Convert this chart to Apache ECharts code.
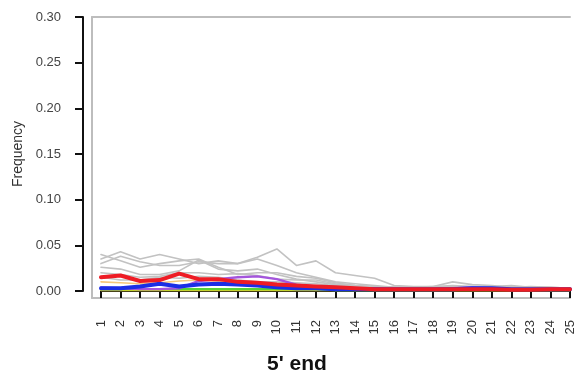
<!DOCTYPE html>
<html>
<head>
<meta charset="utf-8">
<script src="https://cdn.jsdelivr.net/npm/echarts@6/dist/echarts.min.js"></script>
<style>
  html, body { margin: 0; padding: 0; background: #fff; }
  #chart { width: 577px; height: 381px; }
</style>
</head>
<body>
<div id="chart"></div>
<script>
// Read positions along the 5' end
const positions = ['1','2','3','4','5','6','7','8','9','10','11','12','13','14','15','16','17','18','19','20','21','22','23','24','25'];
const yTicks = [0, 0.05, 0.10, 0.15, 0.20, 0.25, 0.30];

// Background samples (grey)
const grey1 = [0.035,0.043,0.035,0.040,0.035,0.030,0.033,0.030,0.037,0.046,0.028,0.033,0.020,0.017,0.014,0.006,0.005,0.005,0.010,0.007,0.006,0.004,0.005,0.004,0.003];
const grey2 = [0.040,0.033,0.026,0.030,0.033,0.035,0.026,0.018,0.020,0.020,0.016,0.014,0.009,0.006,0.005,0.004,0.004,0.004,0.005,0.005,0.004,0.004,0.004,0.004,0.003];
const grey3 = [0.030,0.038,0.032,0.028,0.028,0.032,0.030,0.030,0.035,0.028,0.020,0.015,0.010,0.008,0.006,0.004,0.004,0.005,0.006,0.005,0.005,0.006,0.004,0.003,0.003];
const grey4 = [0.026,0.024,0.018,0.018,0.022,0.034,0.024,0.022,0.024,0.018,0.013,0.010,0.007,0.005,0.004,0.004,0.004,0.004,0.004,0.004,0.004,0.004,0.004,0.003,0.003];
const grey5 = [0.020,0.018,0.015,0.016,0.020,0.020,0.018,0.019,0.017,0.013,0.012,0.012,0.008,0.006,0.005,0.004,0.003,0.004,0.004,0.004,0.003,0.003,0.003,0.003,0.003];
const grey6 = [0.015,0.012,0.012,0.015,0.014,0.016,0.015,0.012,0.010,0.010,0.009,0.008,0.006,0.004,0.003,0.003,0.003,0.003,0.003,0.003,0.003,0.003,0.003,0.003,0.002];

// Highlighted samples
const orange = [0.010,0.009,0.008,0.009,0.011,0.012,0.011,0.009,0.008,0.007,0.006,0.005,0.004,0.003,0.003,0.003,0.003,0.003,0.003,0.003,0.003,0.003,0.003,0.003,0.002];
const yellow = [0.001,0.001,0.001,0.001,0.001,0.001,0.001,0.001,0.001,0.001,0.001,0.001,0.001,0.001,0.001,0.001,0.001,0.001,0.001,0.001,0.001,0.001,0.001,0.001,0.001];
const green  = [0.002,0.002,0.002,0.002,0.002,0.002,0.002,0.002,0.002,0.002,0.002,0.002,0.001,0.001,0.001,0.001,0.001,0.001,0.001,0.001,0.001,0.001,0.001,0.001,0.001];
const purple = [0.004,0.003,0.002,0.002,0.003,0.011,0.013,0.015,0.016,0.013,0.007,0.005,0.004,0.003,0.003,0.002,0.002,0.002,0.003,0.004,0.003,0.002,0.002,0.002,0.002];
const blue   = [0.003,0.003,0.005,0.008,0.005,0.007,0.008,0.007,0.006,0.004,0.003,0.003,0.002,0.002,0.002,0.002,0.002,0.002,0.002,0.003,0.003,0.002,0.002,0.002,0.002];
const red    = [0.015,0.017,0.011,0.012,0.019,0.013,0.013,0.010,0.009,0.007,0.006,0.005,0.004,0.003,0.002,0.002,0.002,0.002,0.002,0.002,0.002,0.0015,0.0015,0.002,0.002];

const FONT = 'Liberation Sans, Arial, sans-serif';
const GREY_LINE = '#c2c2c2';
const FRAME = '#bdbdbd';

function line(data, color, width) {
  return {
    type: 'line', data: data, xAxisIndex: 0, yAxisIndex: 0,
    symbol: 'none', silent: true, animation: false,
    lineStyle: { color: color, width: width, join: 'round', cap: 'round' }
  };
}

const chart = echarts.init(document.getElementById('chart'), null, { renderer: 'canvas' });
chart.setOption({
  animation: false,
  backgroundColor: '#ffffff',
  grid: [
    { left: 101, right: 7, top: 17, bottom: 90 },   // data area
    { left: 92, right: 7, top: 17, bottom: 83 }     // grey frame
  ],
  xAxis: [
    {
      gridIndex: 0, type: 'category', data: positions, boundaryGap: false,
      offset: 18,
      axisLine: { show: true, lineStyle: { color: '#111', width: 2 } },
      axisTick: { show: true, length: 7, lineStyle: { color: '#111', width: 2 } },
      axisLabel: { rotate: 90, margin: 11, color: '#333', fontFamily: FONT, fontSize: 13, interval: 0 },
      splitLine: { show: false }
    },
    {
      gridIndex: 1, type: 'value', min: 0, max: 1, position: 'bottom',
      axisLine: { show: true, lineStyle: { color: FRAME, width: 2 } },
      axisTick: { show: false }, axisLabel: { show: false }, splitLine: { show: false }
    },
    {
      gridIndex: 1, type: 'value', min: 0, max: 1, position: 'top',
      axisLine: { show: true, lineStyle: { color: FRAME, width: 2 } },
      axisTick: { show: false }, axisLabel: { show: false }, splitLine: { show: false }
    }
  ],
  yAxis: [
    {
      gridIndex: 0, type: 'value', min: 0, max: 0.30, interval: 0.05,
      offset: 18,
      name: 'Frequency', nameLocation: 'middle', nameGap: 57,
      nameTextStyle: { color: '#333', fontFamily: FONT, fontSize: 14 },
      axisLine: { show: true, lineStyle: { color: '#111', width: 2 } },
      axisTick: { show: true, length: 8, lineStyle: { color: '#111', width: 2 } },
      axisLabel: {
        margin: 22, color: '#444', fontFamily: FONT, fontSize: 13,
        formatter: v => yTicks.find(t => Math.abs(t - v) < 1e-9).toFixed(2)
      },
      splitLine: { show: false }
    },
    {
      gridIndex: 1, type: 'value', min: 0, max: 1, position: 'left',
      axisLine: { show: true, lineStyle: { color: FRAME, width: 2 } },
      axisTick: { show: false }, axisLabel: { show: false }, splitLine: { show: false }
    }
  ],
  graphic: [
    {
      type: 'text', x: 297, y: 364,
      style: {
        text: "5' end", fill: '#111', fontFamily: FONT, fontSize: 21, fontWeight: 'bold',
        align: 'center', verticalAlign: 'middle'
      }
    }
  ],
  series: [
    line(grey1, GREY_LINE, 1.6),
    line(grey2, GREY_LINE, 1.6),
    line(grey3, GREY_LINE, 1.6),
    line(grey4, GREY_LINE, 1.6),
    line(grey5, GREY_LINE, 1.6),
    line(grey6, GREY_LINE, 1.6),
    line(orange, '#f5c77a', 1.6),
    line(yellow, '#e8d22a', 2.2),
    line(green, '#55d23a', 2.2),
    line(purple, '#a455dd', 2.4),
    line(blue, '#1a2ee6', 4),
    line(red, '#ee1c25', 4)
  ]
});
</script>
</body>
</html>
